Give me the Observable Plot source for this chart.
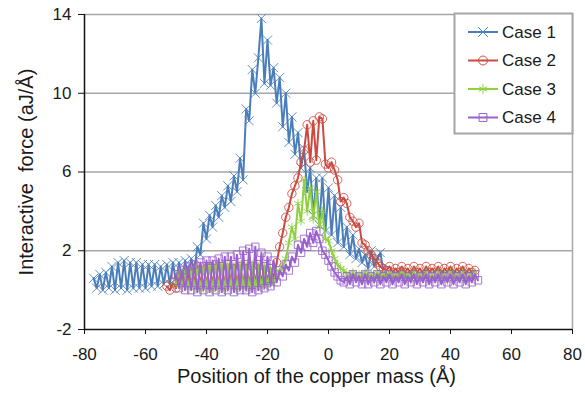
<!DOCTYPE html>
<html>
<head>
<meta charset="utf-8">
<script src="https://cdn.jsdelivr.net/npm/d3@7"></script>
<script src="https://cdn.jsdelivr.net/npm/@observablehq/plot@0.6"></script>
<style>
  html, body { margin: 0; padding: 0; background: #fff; }
  #chart { width: 585px; height: 397px; }
</style>
</head>
<body>
<div id="chart"></div>
<script>
// Interactive force versus position of the copper mass, four cases.
const xTicks = [-80, -60, -40, -20, 0, 20, 40, 60, 80];
const yTicks = [-2, 2, 6, 10, 14];
const seriesNames = ["Case 1", "Case 2", "Case 3", "Case 4"];
const seriesColors = ["#4a7ebb", "#cc4a40", "#8fd13f", "#9a5fd0"];
const seriesSymbols = ["times", "circle", "asterisk", "square"];

// First sampled position of each case (positions advance 1 Å per sample)
const case1Start = -77;
const case2Start = -53;
const case3Start = -50;
const case4Start = -50;

const case1 = [
  0.6,0.1,0.8,0.0,0.9,0.1,1.2,0.0,1.4,0.1,1.5,0.0,1.4,0.1,1.4,0.1,1.3,0.1,1.3,0.2,
  1.3,0.2,1.2,0.3,1.3,0.3,1.4,0.4,1.4,0.5,1.5,0.6,1.6,
  1.0,2.2,1.8,3.4,2.6,3.8,3.2,4.3,3.7,4.8,4.2,5.3,4.5,5.8,5.0,6.7,5.6,
  9.2,8.6,11.2,10.0,11.8,13.8,10.5,12.7,10.4,11.3,9.5,10.8,8.3,10.0,7.5,8.8,6.9,8.0,
  6.2,7.2,5.0,6.2,3.8,5.7,3.3,5.7,3.0,5.2,2.8,4.8,2.4,4.2,2.2,3.2,1.8,2.8,1.6,2.1,
  1.4,1.8,1.1,2.0,1.2,1.6,1.9,1.0
];
const case2 = [
  0.2,0.0,0.4,0.1,0.7,0.4,0.9,0.5,1.1,0.4,1.2,0.3,1.2,0.3,1.2,0.3,1.3,0.3,1.2,0.3,
  1.3,0.4,1.3,0.3,1.2,0.3,1.3,0.3,1.2,0.4,1.3,0.4,1.2,0.5,1.1,0.6,
  1.4,2.2,2.9,3.7,4.2,4.9,5.3,5.7,6.5,7.1,8.4,6.5,8.6,6.6,8.8,8.7,6.4,6.2,6.5,6.1,
  5.6,4.5,4.7,4.4,3.7,3.5,3.2,3.4,2.4,2.3,2.0,1.8,1.6,1.4,1.2,1.1,
  1.0,1.2,0.9,1.1,0.9,1.2,0.9,1.1,0.8,1.2,0.9,1.1,0.8,1.2,0.9,1.1,0.9,1.2,0.8,1.1,
  0.9,1.2,0.8,1.1,0.9,1.2,0.8,1.1,0.9,1.0
];
const case3 = [
  0.3,0.9,0.2,1.0,0.1,1.1,0.1,1.2,0.0,1.2,0.1,1.3,0.0,1.3,0.1,1.3,0.0,1.3,0.1,1.2,
  0.0,1.3,0.1,1.2,0.0,1.3,0.1,1.2,0.1,1.2,0.2,1.1,0.3,1.0,
  0.9,1.2,1.6,2.4,3.2,2.6,4.4,3.5,5.6,4.0,5.2,3.6,5.0,3.2,4.0,2.6,2.5,2.0,1.6,1.3,
  1.1,1.0,
  0.8,0.6,0.9,0.6,0.8,0.5,0.9,0.6,0.8,0.5,0.9,0.6,0.8,0.6,0.9,0.5,0.8,0.6,0.9,0.6,
  0.8,0.5,0.9,0.6,0.8,0.6,0.9,0.5,0.8,0.6,0.9,0.6,0.8,0.5,0.9,0.6,0.8,0.6,0.9,0.5,
  0.8,0.6,0.9
];
const case4 = [
  0.8,0.1,1.0,0.0,1.2,0.0,1.3,-0.1,1.4,0.0,1.5,-0.1,1.5,0.0,1.6,-0.1,1.7,0.0,1.7,-0.1,
  1.8,0.0,2.0,0.0,2.1,-0.1,2.2,0.0,1.9,0.1,1.7,0.2,1.5,0.4,
  1.0,0.7,1.3,1.0,1.7,1.4,2.3,1.9,2.6,2.2,2.9,2.4,3.0,2.6,2.0,1.8,1.5,1.2,0.9,0.7,
  0.5,
  0.4,0.7,0.3,0.8,0.4,0.7,0.3,0.8,0.3,0.7,0.4,0.8,0.3,0.7,0.4,0.8,0.3,0.7,0.4,0.8,
  0.3,0.7,0.4,0.8,0.3,0.7,0.4,0.8,0.3,0.7,0.4,0.8,0.3,0.7,0.4,0.8,0.3,0.7,0.4,0.8,
  0.3,0.7,0.4,0.8,0.5
];

const xTitle = "Position of the copper mass (Å)";
const yTitle = "Interactive  force (aJ/Å)";

const starts = [case1Start, case2Start, case3Start, case4Start];
const values = [case1, case2, case3, case4];
const rows = values.flatMap((vals, i) =>
  vals.map((v, j) => ({series: seriesNames[i], x: starts[i] + j, y: v}))
);

const font = "'Liberation Sans', Arial, sans-serif";
const markerR = 4.2;

const marks = [
  Plot.gridY(yTicks.filter(d => d > -2), {stroke: "#a6a6a6", strokeOpacity: 1, strokeWidth: 1.5}),
  Plot.ruleX([80], {stroke: "#a6a6a6", strokeWidth: 1.5}),
];
seriesNames.forEach((name, i) => {
  const d = rows.filter(r => r.series === name);
  marks.push(
    Plot.line(d, {x: "x", y: "y", stroke: seriesColors[i], strokeWidth: 2}),
    Plot.dot(d, {x: "x", y: "y", stroke: seriesColors[i], fill: "none",
      symbol: seriesSymbols[i], r: markerR, strokeWidth: 1, strokeOpacity: 0.85})
  );
});
marks.push(
  Plot.ruleY([-2], {stroke: "#111", strokeWidth: 1.5}),
  Plot.ruleX([-80], {stroke: "#111", strokeWidth: 1.5}),
  Plot.axisX({ticks: xTicks, tickSize: 5, tickPadding: 13, label: null, stroke: "#111",
    tickFormat: d => String(d)}),
  Plot.axisY({ticks: yTicks, tickSize: 6, tickPadding: 7, label: null, stroke: "#111",
    tickFormat: d => String(d)}),
  Plot.text([xTitle], {frameAnchor: "bottom", dy: 53, dx: -12, fontSize: 20, fill: "#1a1a1a",
    textAnchor: "middle"}),
  Plot.text([yTitle], {frameAnchor: "left", dx: -58, rotate: -90, fontSize: 20, fill: "#1a1a1a",
    textAnchor: "middle"})
);

const chart = Plot.plot({
  width: 585,
  height: 397,
  marginLeft: 84,
  marginRight: 13,
  marginTop: 14,
  marginBottom: 68,
  style: {fontFamily: font, fontSize: "17px", color: "#1a1a1a", background: "white", overflow: "visible"},
  x: {domain: [-80, 80], axis: null},
  y: {domain: [-2, 14], axis: null},
  marks
});

// Legend box inside the upper-right corner of the plot area
const svg = d3.select(chart);
const lg = svg.append("g").attr("transform", "translate(454,13)");
lg.append("rect").attr("x", 0.5).attr("y", 0.5).attr("width", 118).attr("height", 120)
  .attr("fill", "white").attr("stroke", "#a6a6a6").attr("stroke-width", 2);
const symbolType = {times: d3.symbolTimes, circle: d3.symbolCircle, asterisk: d3.symbolAsterisk, square: d3.symbolSquare};
seriesNames.forEach((name, i) => {
  const cy = 19 + i * 28.5;
  lg.append("line").attr("x1", 14).attr("x2", 44).attr("y1", cy).attr("y2", cy)
    .attr("stroke", seriesColors[i]).attr("stroke-width", 2);
  lg.append("path").attr("transform", `translate(29,${cy})`)
    .attr("d", d3.symbol(symbolType[seriesSymbols[i]], 4.5 * Math.PI * markerR * markerR / 4)())
    .attr("fill", "none").attr("stroke", seriesColors[i]).attr("stroke-width", 1);
  lg.append("text").attr("x", 48).attr("y", cy).attr("dy", "0.35em")
    .attr("text-anchor", "start")
    .attr("font-family", font).attr("font-size", 17).attr("fill", "#1a1a1a").text(name);
});

document.getElementById("chart").appendChild(chart);
</script>
</body>
</html>
